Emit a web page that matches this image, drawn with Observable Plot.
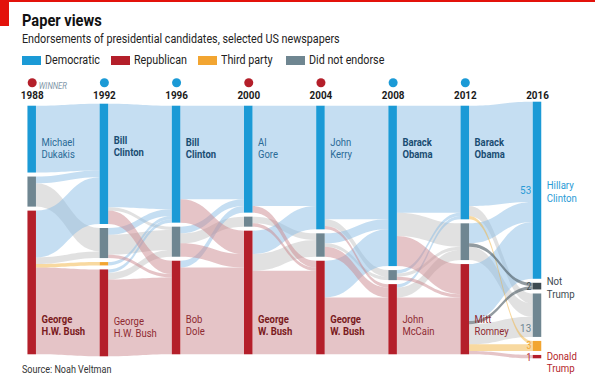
<!DOCTYPE html>
<html><head><meta charset="utf-8">
<script src="https://cdn.jsdelivr.net/npm/d3@7"></script>
<script src="https://cdn.jsdelivr.net/npm/@observablehq/plot@0.6"></script>
<style>
body{margin:0;width:595px;height:378px;position:relative;overflow:hidden;background:#fff;font-family:Roboto,sans-serif;color:#111;}
#topline{position:absolute;left:0;top:0;width:595px;height:2px;background:#e3120b;}
#redbox{position:absolute;left:0;top:0;width:9px;height:26px;background:#e3120b;}
.sq{display:inline-block;transform:scaleX(0.86);transform-origin:0 50%;white-space:nowrap;}
#title{position:absolute;left:22px;top:10px;font-size:17px;line-height:20px;font-weight:bold;}
#subtitle{position:absolute;left:22px;top:31px;font-size:12.5px;line-height:15px;color:#222;}
.li{position:absolute;top:53px;height:14px;font-size:12.5px;line-height:14px;color:#222;}
.sw{position:absolute;left:0;top:3px;width:19px;height:9px;}
.lt{position:absolute;left:23px;top:0;}
#chart{position:absolute;left:0;top:72px;}
#source{position:absolute;left:22px;top:364px;font-size:10.5px;line-height:12px;color:#333;}
</style></head><body>
<div id="topline"></div><div id="redbox"></div>
<div id="title"><span class="sq">Paper views</span></div>
<div id="subtitle"><span class="sq">Endorsements of presidential candidates, selected US newspapers</span></div>
<div id="legend"></div>
<div id="chart"></div>
<div id="source"><span class="sq">Source: Noah Veltman</span></div>
<script>
// ---- data ----
const years = [1988, 1992, 1996, 2000, 2004, 2008, 2012, 2016];
const winners = ["R", "D", "D", "R", "R", "D", "D", ""];
const demNames = ["Michael\nDukakis", "Bill\nClinton", "Bill\nClinton", "Al\nGore", "John\nKerry", "Barack\nObama", "Barack\nObama", "Hillary\nClinton"];
const repNames = ["George\nH.W. Bush", "George\nH.W. Bush", "Bob\nDole", "George\nW. Bush", "George\nW. Bush", "John\nMcCain", "Mitt\nRomney", "Donald\nTrump"];
const notTrumpName = "Not\nTrump";
const legendLabels = ["Democratic", "Republican", "Third party", "Did not endorse"];
// endorsement counts per year (of 72 newspapers)
const demCounts = [20, 36, 35, 32, 37, 48, 34, 53];
const notTrumpCounts = [0, 0, 0, 0, 0, 0, 0, 2];
const noneCounts = [9, 9, 9, 3, 7, 3, 11, 13];
const thirdCounts = [0, 1, 0, 0, 0, 0, 0, 3];
const repCounts = [43, 26, 28, 37, 28, 21, 27, 1];
// flows between consecutive elections: [from, to, papers]
const flows88to92 = [["D","D",20],["N","D",2],["N","N",7],["R","D",14],["R","N",2],["R","T",1],["R","R",26]];
const flows92to96 = [["D","D",31],["D","N",1],["D","R",4],["N","D",2],["N","N",6],["N","R",1],["T","D",1],["R","D",1],["R","N",2],["R","R",23]];
const flows96to00 = [["D","D",28],["D","R",7],["N","D",2],["N","N",3],["N","R",4],["R","D",2],["R","R",26]];
const flows00to04 = [["D","D",30],["D","R",2],["N","N",2],["N","R",1],["R","D",7],["R","N",5],["R","R",25]];
const flows04to08 = [["D","D",34],["D","N",2],["D","R",1],["N","D",3],["N","N",1],["N","R",3],["R","D",11],["R","R",17]];
const flows08to12 = [["D","D",32],["D","N",7],["D","R",9],["N","D",1],["N","N",1],["N","R",1],["R","D",1],["R","N",3],["R","R",17]];
const flows12to16 = [["D","D",30],["D","N",3],["D","T",1],["N","D",6],["N","NT",1],["N","N",4],["R","D",17],["R","NT",1],["R","N",6],["R","T",2],["R","R",1]];

// ---- styles ----
const nodeKeys = ["D", "NT", "N", "T", "R"];
const nodeFill = {D: "#1b9ad6", NT: "#3d4a51", N: "#6f8691", T: "#f2a531", R: "#b41f2a"};
const flowFill = {D: "#8cbde6", NT: "#4a5860", N: "#c4c4c4", T: "#f1b341", R: "#cb898f"};
const flowOpacity = {D: 0.5, NT: 0.6, N: 0.5, T: 0.5, R: 0.5};
const SQ = 0.86;
const W = 595, H = 290, mL = 31.7, mR = 58, mT = 29.7, mB = 3.7;
const gapU = 1.2, maxGaps = 4;
const totalPapers = d3.sum([demCounts, notTrumpCounts, noneCounts, thirdCounts, repCounts], a => a[0]);
const yMax = totalPapers + maxGaps * gapU;
const pxPerYear = (W - mL - mR) / (years[years.length - 1] - years[0]);
const hw = 4.25 / pxPerYear;
const pxPerUnit = (H - mT - mB) / yMax;
const u = px => px / pxPerUnit;

// legend
const leg = document.getElementById("legend");
const legKeys = ["D", "R", "T", "N"];
const legLeft = [22, 111, 198, 286];
legendLabels.forEach((l, i) => {
  const d = document.createElement("div"); d.className = "li"; d.style.left = legLeft[i] + "px";
  d.innerHTML = `<span class="sw" style="background:${nodeFill[legKeys[i]]}"></span><span class="lt"><span class="sq">${l}</span></span>`;
  leg.appendChild(d);
});

// ---- layout ----
const counts = {D: demCounts, NT: notTrumpCounts, N: noneCounts, T: thirdCounts, R: repCounts};
const cols = years.map((yr, i) => {
  const present = nodeKeys.filter(k => counts[k][i] > 0);
  let y = (maxGaps - (present.length - 1)) * gapU / 2;
  const nodes = {};
  present.forEach(k => { nodes[k] = {year: yr, key: k, y0: y, y1: y + counts[k][i]}; y += counts[k][i] + gapU; });
  return nodes;
});
const nodes = cols.flatMap(c => Object.values(c));
const transitions = [flows88to92, flows92to96, flows96to00, flows00to04, flows04to08, flows08to12, flows12to16];
const order = k => nodeKeys.indexOf(k);
const bands = [];
transitions.forEach((fl, i) => {
  const src = cols[i], tgt = cols[i + 1];
  const so = {}, to = {};
  for (const k in src) so[k] = src[k].y0;
  for (const k in tgt) to[k] = tgt[k].y0;
  const sy = new Map();
  fl.slice().sort((a, b) => order(a[0]) - order(b[0]) || order(a[1]) - order(b[1]))
    .forEach(f => { sy.set(f, so[f[0]]); so[f[0]] += f[2]; });
  fl.slice().sort((a, b) => order(a[1]) - order(b[1]) || order(a[0]) - order(b[0]))
    .forEach((f, j) => {
      const id = i + "-" + j, s = sy.get(f), t = to[f[1]];
      to[f[1]] += f[2];
      bands.push({id, to: f[1], x: years[i] + hw, ya: s, yb: s + f[2]});
      bands.push({id, to: f[1], x: years[i + 1] - hw, ya: t, yb: t + f[2]});
    });
});

// labels
const labels = [];
years.slice(0, -1).forEach((yr, i) => {
  labels.push({year: yr, party: "D", text: demNames[i], win: winners[i] === "D", y: cols[i].D.y0 + u(31)});
  labels.push({year: yr, party: "R", text: repNames[i], win: winners[i] === "R", y: cols[i].R.y1 - u(19.7)});
});
const last = cols[cols.length - 1], lastYear = years[years.length - 1];
const mid = n => (n.y0 + n.y1) / 2;
const lastLabels = [
  {text: demNames[7], y: mid(last.D) - u(10.5), fill: "#2a9bd6"},
  {text: notTrumpName, y: mid(last.NT) - u(10.5), fill: "#3d4a51"},
  {text: repNames[7], y: mid(last.R) - u(6.5), fill: "#b41f2a"}
];
const lastValues = nodeKeys.map(k => ({key: k, v: counts[k][7], n: last[k]}));
const valFill = {D: "#2a9bd6", NT: "#3d4a51", N: "#6f8691", T: "#f2a531", R: "#b41f2a"};
const valDy = {D: 0, NT: 0, N: -5, T: -0.5, R: 1};
const winnerData = years.map((yr, i) => ({year: yr, w: winners[i]})).filter(d => d.w);

const marks = [];
for (const k of ["N", "D", "R", "T", "NT"]) {
  marks.push(Plot.areaY(bands.filter(b => b.to === k), {x: "x", y1: "ya", y2: "yb", z: "id", curve: "bump-x", fill: flowFill[k], fillOpacity: flowOpacity[k]}));
}
for (const k of nodeKeys) {
  marks.push(Plot.rect(nodes.filter(n => n.key === k), {x1: d => d.year - hw, x2: d => d.year + hw, y1: "y0", y2: "y1", fill: nodeFill[k]}));
}
for (const p of ["D", "R"]) for (const win of [true, false]) {
  marks.push(Plot.text(labels.filter(l => l.party === p && l.win === win), {
    x: d => d.year + hw, y: "y", text: "text", textAnchor: "start", lineAnchor: p === "D" ? "top" : "bottom",
    dx: 5, lineHeight: 1.08, fontSize: 11, fontWeight: win ? "bold" : "normal",
    fill: p === "D" ? (win ? "#1a4d73" : "#2a6a96") : (win ? "#7a1a20" : "#8e2a31")
  }));
}
marks.push(Plot.text(lastLabels, {x: () => lastYear + hw, y: "y", text: "text", textAnchor: "start", lineAnchor: "top", dx: 5, lineHeight: 1.12, fontSize: 11.2, fill: d => d.fill}));
for (const d of lastValues) {
  const bottom = d.key === "N";
  marks.push(Plot.text([d], {x: () => lastYear - hw, y: bottom ? (x => x.n.y1) : (x => mid(x.n)), text: x => String(x.v), textAnchor: "end", lineAnchor: bottom ? "bottom" : "middle", dx: -2, dy: valDy[d.key], fontSize: d.key === "D" || d.key === "N" ? 11.5 : 10, fill: valFill[d.key]}));
}
marks.push(Plot.dot(winnerData, {x: "year", frameAnchor: "top", dy: -19.4, r: 4.5, fill: d => nodeFill[d.w]}));
marks.push(Plot.text(["WINNER"], {x: () => years[0], frameAnchor: "top", dy: -20, dx: 6.5, textAnchor: "start", fontSize: 9, fontStyle: "italic", fill: "#8197a8"}));
marks.push(Plot.text(years, {x: d => d, text: d => String(d), frameAnchor: "top", lineAnchor: "bottom", dy: -3.7, fontSize: 11.5, fontWeight: "bold", fill: "#1a1a1a"}));

const chart = Plot.plot({
  width: W, height: H, marginLeft: mL, marginRight: mR, marginTop: mT, marginBottom: mB,
  x: {domain: [years[0], lastYear], axis: null},
  y: {domain: [0, yMax], reverse: true, axis: null},
  color: {type: "identity"},
  style: {fontFamily: "Roboto, sans-serif", overflow: "visible", background: "transparent"},
  marks
});
document.getElementById("chart").appendChild(chart);
// condense text horizontally (narrow original typeface) without moving anchors
chart.querySelectorAll("text").forEach(t => {
  const spans = t.querySelectorAll("tspan");
  const els = spans.length ? Array.from(spans) : [t];
  els.forEach(el => {
    const L = el.getComputedTextLength();
    if (L > 0) { el.setAttribute("textLength", (L * SQ).toFixed(2)); el.setAttribute("lengthAdjust", "spacingAndGlyphs"); }
  });
});
</script>
</body></html>
